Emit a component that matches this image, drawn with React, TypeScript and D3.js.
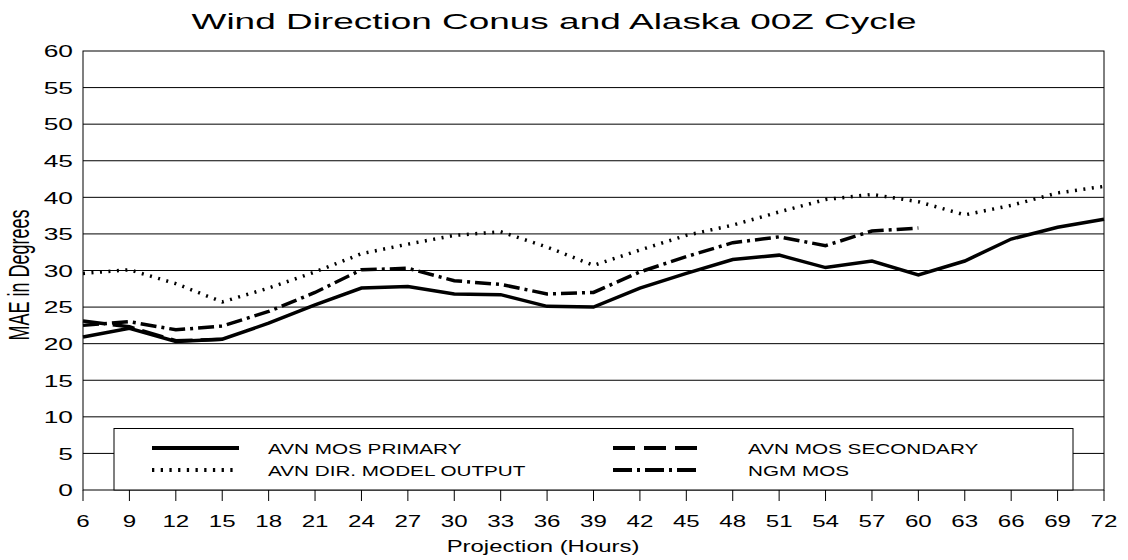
import React from "react";
import * as d3 from "d3";

// projection hours on the x axis
const hours = [6, 9, 12, 15, 18, 21, 24, 27, 30, 33, 36, 39, 42, 45, 48, 51, 54, 57, 60, 63, 66, 69, 72];
const yTicks = [0, 5, 10, 15, 20, 25, 30, 35, 40, 45, 50, 55, 60];

// MAE in degrees
const avnPrimary = [20.9, 22.1, 20.3, 20.6, 22.8, 25.3, 27.6, 27.8, 26.8, 26.7, 25.1, 25.0, 27.6, 29.6, 31.5, 32.1, 30.4, 31.3, 29.4, 31.3, 34.3, 35.9, 37.0];
const avnSecondary = [23.1, 22.3, 20.4, 20.6];
const avnDirect = [29.6, 30.1, 28.2, 25.7, 27.6, 29.8, 32.3, 33.6, 34.8, 35.3, 33.2, 30.7, 32.8, 34.8, 36.2, 38.0, 39.7, 40.4, 39.4, 37.6, 38.9, 40.6, 41.5];
const ngmMos = [22.5, 23.0, 21.9, 22.4, 24.4, 27.0, 30.1, 30.3, 28.6, 28.1, 26.8, 27.0, 29.8, 31.9, 33.8, 34.6, 33.4, 35.4, 35.8];

const FONT = "'Liberation Sans', Arial, Helvetica, sans-serif";

// the original picture is stretched sideways, so text is scaled in x
const SText = ({ x, y, size, sx = 1.6, anchor = "start", rotate, children }: any) => (
  <text
    transform={`translate(${x},${y}) scale(${sx},1)${rotate ? ` rotate(${rotate})` : ""}`}
    textAnchor={anchor}
    fontSize={size}
    fontFamily={FONT}
    fill="#000"
  >
    {children}
  </text>
);

const App = () => {
  const width = 1128;
  const height = 560;
  const x = d3.scaleLinear().domain([6, 72]).range([83, 1104]);
  const y = d3.scaleLinear().domain([0, 60]).range([490, 51]);

  const line = d3
    .line<[number, number]>()
    .x((d) => x(d[0]))
    .y((d) => y(d[1]));
  const pts = (vals: number[]) => vals.map((v, i) => [hours[i], v] as [number, number]);

  const series = [
    { name: "AVN MOS PRIMARY", data: avnPrimary, dash: "none" },
    { name: "AVN MOS SECONDARY", data: avnSecondary, dash: "22,8" },
    { name: "AVN DIR. MODEL OUTPUT", data: avnDirect, dash: "2,6.5" },
    { name: "NGM MOS", data: ngmMos, dash: "16,5,3,5" },
  ];
  const legendDash = ["none", "22,9", "2.3,6.4", "19,5,3,5"];

  // legend layout: two columns, two rows
  const legendPos = [
    { sx: 152, tx: 268, ry: 448 },
    { sx: 613, tx: 748, ry: 448 },
    { sx: 152, tx: 268, ry: 470 },
    { sx: 613, tx: 748, ry: 470 },
  ];

  return (
    <svg
      width={width}
      height={height}
      style={{ position: "absolute", left: 0, top: 0, background: "#fff" }}
    >
      <rect width={width} height={height} fill="#fff" />

      {/* gridlines */}
      {yTicks.slice(1, -1).map((t) => (
        <line key={t} x1={83} x2={1104} y1={y(t)} y2={y(t)} stroke="#000" strokeWidth={1} />
      ))}

      {/* frame */}
      <rect x={83} y={51} width={1104 - 83} height={490 - 51} fill="none" stroke="#000" strokeWidth={1} />

      {/* x ticks */}
      {hours.map((h) => (
        <line key={h} x1={x(h)} x2={x(h)} y1={490} y2={501} stroke="#000" strokeWidth={1} />
      ))}

      {/* series */}
      {series.map((s) => (
        <path
          key={s.name}
          d={line(pts(s.data)) || ""}
          fill="none"
          stroke="#000"
          strokeWidth={3.5}
          strokeDasharray={s.dash}
          strokeLinejoin="miter"
        />
      ))}

      {/* legend */}
      <rect x={114} y={428.5} width={1073 - 114} height={490 - 428.5} fill="#fff" stroke="#000" strokeWidth={1} />
      {series.map((s, i) => {
        const p = legendPos[i];
        return (
          <g key={s.name}>
            <line x1={p.sx} x2={p.sx + 87} y1={p.ry} y2={p.ry} stroke="#000" strokeWidth={4} strokeDasharray={legendDash[i]} />
            <SText x={p.tx} y={p.ry + 5.5} size={15} sx={1.38}>
              {s.name}
            </SText>
          </g>
        );
      })}

      {/* y tick labels */}
      {yTicks.map((t) => (
        <SText key={t} x={73} y={y(t) + 6.3} size={17} sx={1.55} anchor="end">
          {t}
        </SText>
      ))}

      {/* x tick labels */}
      {hours.map((h) => (
        <SText key={h} x={x(h)} y={527} size={17} sx={1.42} anchor="middle">
          {h}
        </SText>
      ))}

      <SText x={543} y={552} size={16.5} sx={1.45} anchor="middle">
        Projection (Hours)
      </SText>
      <SText x={29} y={275} size={18} sx={1.6} anchor="middle" rotate={-90}>
        MAE in Degrees
      </SText>
      <SText x={554} y={29} size={22} sx={1.68} anchor="middle">
        Wind Direction Conus and Alaska 00Z Cycle
      </SText>
    </svg>
  );
};

export default App;
